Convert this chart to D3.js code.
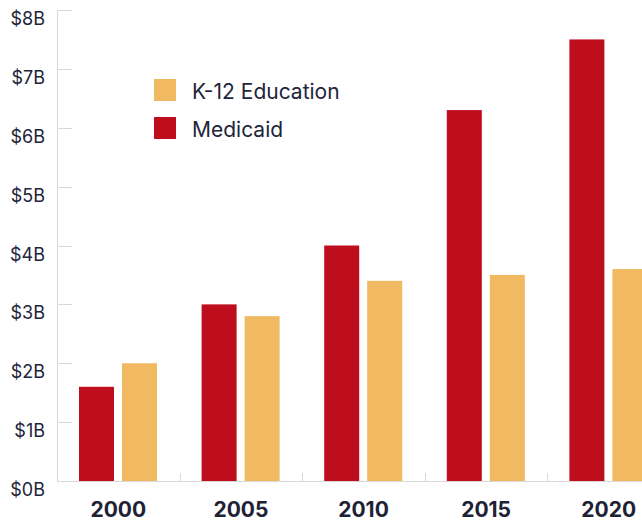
<!DOCTYPE html>
<html>
<head>
<meta charset="utf-8">
<script src="https://cdn.jsdelivr.net/npm/d3@7"></script>
<style>
  html, body { margin: 0; padding: 0; background: #fff; overflow: hidden; }
  svg { display: block; font-family: Inter, "Noto Sans", sans-serif; }
</style>
</head>
<body>
<div id="chart"></div>
<script>
const years = ['2000', '2005', '2010', '2015', '2020'];
const seriesNames = ['Medicaid', 'K-12 Education'];
const medicaid = [1.6, 3.0, 4.0, 6.3, 7.5];
const k12 = [2.0, 2.8, 3.4, 3.5, 3.6];
const yTicks = [0, 1, 2, 3, 4, 5, 6, 7, 8];
const legendOrder = ['K-12 Education', 'Medicaid'];

const colors = { 'Medicaid': '#be0d1d', 'K-12 Education': '#f1b962' };

const W = 642, H = 521;
const plotLeft = 57, plotTop = 10, plotBottom = 481;
const groupW = 122.6;

const data = years.map((yr, i) => ({ year: yr, 'Medicaid': medicaid[i], 'K-12 Education': k12[i] }));

const svg = d3.select('#chart').append('svg')
  .attr('width', W).attr('height', H);

const x0 = d3.scaleBand().domain(years).range([plotLeft, plotLeft + groupW * years.length]).padding(0);
const x1 = d3.scaleBand().domain(seriesNames).range([22, 100]).paddingInner(8 / 43).paddingOuter(0);
const y = d3.scaleLinear().domain([0, 8]).range([plotBottom, plotTop]);

// y axis line + inner ticks
svg.append('line')
  .attr('x1', plotLeft + 0.5).attr('x2', plotLeft + 0.5).attr('y1', plotTop).attr('y2', plotBottom)
  .attr('stroke', '#d9d9d9').attr('stroke-width', 1);
svg.selectAll('.ytick')
  .data(yTicks)
  .join('line')
  .attr('class', 'ytick')
  .attr('x1', plotLeft).attr('x2', plotLeft + 15)
  .attr('y1', d => Math.round(y(d)) + 0.5).attr('y2', d => Math.round(y(d)) + 0.5)
  .attr('stroke', '#d9d9d9');
svg.selectAll('.ylabel')
  .data(yTicks)
  .join('text')
  .attr('class', 'ylabel')
  .attr('x', 45).attr('y', d => y(d) + 15)
  .attr('text-anchor', 'end')
  .attr('font-size', '18px')
  .attr('fill', '#22243a')
  .text(d => `$${d}B`);

// bars
const groups = svg.selectAll('.group')
  .data(data)
  .join('g')
  .attr('class', 'group')
  .attr('transform', d => `translate(${x0(d.year)},0)`);

groups.selectAll('rect')
  .data(d => seriesNames.map(k => ({ key: k, value: d[k] })))
  .join('rect')
  .attr('x', d => x1(d.key))
  .attr('width', x1.bandwidth())
  .attr('y', d => y(d.value))
  .attr('height', d => y(0) - y(d.value))
  .attr('fill', d => colors[d.key]);

// x axis line + separators
svg.append('line')
  .attr('x1', plotLeft).attr('x2', W).attr('y1', plotBottom + 0.5).attr('y2', plotBottom + 0.5)
  .attr('stroke', '#d9d9d9');
svg.selectAll('.xsep')
  .data(years.slice(1))
  .join('line')
  .attr('class', 'xsep')
  .attr('x1', d => Math.round(x0(d)) + 0.5).attr('x2', d => Math.round(x0(d)) + 0.5)
  .attr('y1', plotBottom - 8).attr('y2', plotBottom)
  .attr('stroke', '#d9d9d9');
svg.selectAll('.xlabel')
  .data(years)
  .join('text')
  .attr('class', 'xlabel')
  .attr('x', d => x0(d) + x0.bandwidth() / 2)
  .attr('y', 517)
  .attr('text-anchor', 'middle')
  .attr('font-size', '21px')
  .attr('font-weight', '700')
  .attr('fill', '#1e2235')
  .text(d => d);

// legend
const legend = svg.append('g').attr('transform', 'translate(154,79)');
legendOrder.forEach((k, i) => {
  const item = legend.append('g').attr('transform', `translate(0,${i * 38})`);
  item.append('rect').attr('width', 22).attr('height', 22).attr('fill', colors[k]);
  item.append('text')
    .attr('x', 38).attr('y', 20)
    .attr('font-size', '21px')
    .attr('fill', '#22243a')
    .text(k);
});
</script>
</body>
</html>
